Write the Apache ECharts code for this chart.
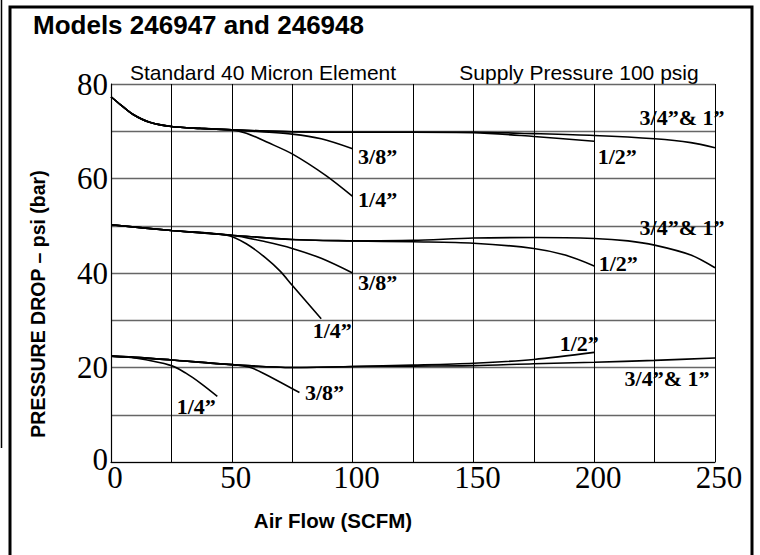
<!DOCTYPE html>
<html>
<head>
<meta charset="utf-8">
<script src="https://cdn.jsdelivr.net/npm/echarts@6/dist/echarts.min.js"></script>
<style>
html,body{margin:0;padding:0;background:#fff;}
#chart{width:760px;height:555px;}
</style>
</head>
<body>
<div id="chart"></div>
<script>
// ---- data (Air Flow SCFM, Pressure psi) ----
const xTickLabels = [0, 50, 100, 150, 200, 250];
const yTickLabels = [0, 20, 40, 60, 80];

// 80 psi inlet group
const top_34_1 = [[0,77.3],[4,75.6],[9,73.6],[16,71.9],[25,71.0],[37,70.6],[50,70.3],[75,69.9],[100,69.8],[125,69.8],[150,69.8],[175,69.5],[200,69.1],[225,68.4],[240,67.6],[250,66.5]];
const top_12   = [[0,77.3],[4,75.6],[9,73.6],[16,71.9],[25,71.0],[37,70.6],[50,70.3],[75,69.9],[100,69.8],[125,69.8],[150,69.7],[175,68.9],[200,67.9]];
const top_38   = [[0,77.3],[4,75.6],[9,73.6],[16,71.9],[25,71.0],[37,70.6],[50,70.3],[62,69.9],[75,69.4],[87,68.4],[100,66.3]];
const top_14   = [[0,77.3],[4,75.6],[9,73.6],[16,71.9],[25,71.0],[37,70.6],[50,70.3],[56,69.6],[65,67.6],[75,65.2],[89,60.6],[100,56.2]];

// 50 psi group
const mid_34_1 = [[0,50.2],[25,49.0],[50,48.0],[75,47.1],[100,46.8],[125,46.9],[150,47.4],[175,47.5],[200,47.3],[214,46.8],[225,45.9],[240,43.8],[250,41.1]];
const mid_12   = [[0,50.2],[25,49.0],[50,48.0],[75,47.1],[100,46.8],[125,46.6],[150,46.3],[175,45.2],[188,43.8],[200,41.5]];
const mid_38   = [[0,50.2],[25,49.0],[50,48.0],[64,46.6],[75,45.2],[87,43.1],[100,40.0]];
const mid_14   = [[0,50.2],[25,49.0],[48,48.0],[56,46.2],[64,43.2],[70,40.4],[75,37.4],[87,30.3]];

// 20 psi group
const low_34_1 = [[0,22.4],[12,22.1],[25,21.6],[50,20.6],[75,20.0],[100,20.2],[125,20.3],[150,20.4],[175,20.8],[200,21.1],[225,21.5],[250,22.0]];
const low_12   = [[0,22.4],[12,22.1],[25,21.6],[50,20.6],[75,20.0],[100,20.2],[125,20.5],[150,20.9],[175,21.7],[200,23.2]];
const low_38   = [[0,22.4],[12,22.1],[25,21.6],[50,20.6],[57,20.1],[63,18.8],[78,14.7]];
const low_14   = [[0,22.4],[10,22.0],[25,20.4],[31,18.8],[37,16.7],[44,13.9]];

const curveNames = ['3/4\u201D& 1\u201D', '1/2\u201D', '3/8\u201D', '1/4\u201D'];

// ---- layout / style ----
const curves = [
  {data: top_34_1, name: curveNames[0], off: [-33, -30]},
  {data: top_12,   name: curveNames[1], off: [23, 15]},
  {data: top_38,   name: curveNames[2], off: [25, 8]},
  {data: top_14,   name: curveNames[3], off: [25, 3]},
  {data: mid_34_1, name: curveNames[0], off: [-33, -40]},
  {data: mid_12,   name: curveNames[1], off: [24, -2]},
  {data: mid_38,   name: curveNames[2], off: [25, 9]},
  {data: mid_14,   name: curveNames[3], off: [11, 12]},
  {data: low_34_1, name: curveNames[0], off: [-48, 20]},
  {data: low_12,   name: curveNames[1], off: [-15, -9]},
  {data: low_38,   name: curveNames[2], off: [25, 0]},
  {data: low_14,   name: curveNames[3], off: [-21, 10]}
];

const serif = '"Liberation Serif", "Times New Roman", serif';
const sans = '"Liberation Sans", Arial, Helvetica, sans-serif';

const series = curves.map(c => ({
  type: 'line',
  name: c.name,
  data: c.data,
  smooth: 0.3,
  showSymbol: false,
  symbol: 'none',
  lineStyle: {color: '#000', width: 1.6},
  silent: true,
  animation: false,
  markPoint: {
    symbol: 'circle',
    symbolSize: 0,
    silent: true,
    animation: false,
    data: [{coord: c.data[c.data.length - 1]}],
    label: {
      show: true,
      position: 'inside',
      offset: c.off,
      formatter: c.name,
      color: '#000',
      fontFamily: serif,
      fontWeight: 'bold',
      fontSize: 22
    }
  }
}));

const chart = echarts.init(document.getElementById('chart'), null, {renderer: 'svg'});
chart.setOption({
  backgroundColor: '#fff',
  animation: false,
  grid: {left: 111, right: 45, top: 84, bottom: 93, containLabel: false},
  xAxis: {
    type: 'value', min: 0, max: 250, interval: 25,
    axisLine: {show: true, lineStyle: {color: '#000', width: 1.2}},
    axisTick: {show: false},
    axisLabel: {
      margin: 2,
      padding: [0, 0, 0, 8],
      color: '#000', fontFamily: serif, fontSize: 31, lineHeight: 26,
      formatter: v => xTickLabels.includes(v) ? String(v) : ''
    },
    splitLine: {show: true, lineStyle: {color: '#000', width: 1}}
  },
  yAxis: {
    type: 'value', min: 0, max: 80, interval: 10,
    axisLine: {show: true, lineStyle: {color: '#000', width: 1.2}},
    axisTick: {show: false},
    axisLabel: {
      margin: 3,
      color: '#000', fontFamily: serif, fontSize: 31, lineHeight: 24,
      formatter: v => yTickLabels.includes(v) ? (v === 0 ? '{z|0}' : String(v)) : '',
      rich: {z: {fontFamily: serif, fontSize: 31, lineHeight: 24, color: '#000', padding: [0, 0, 6, 0]}}
    },
    splitLine: {show: true, lineStyle: {color: '#666', width: 1.3}}
  },
  graphic: [
    {type: 'rect', shape: {x: 10, y: 7, width: 742, height: 560}, style: {fill: 'none', stroke: '#000', lineWidth: 3}, silent: true},
    {type: 'line', shape: {x1: 1.5, y1: 0, x2: 1.5, y2: 448}, style: {stroke: '#000', lineWidth: 1.5}, silent: true},
    {type: 'text', x: 33, y: 25, style: {text: 'Models 246947 and 246948', font: 'bold 26px ' + sans, fill: '#000', textAlign: 'left', textVerticalAlign: 'middle'}},
    {type: 'text', x: 263, y: 72, style: {text: 'Standard 40 Micron Element', font: '21px ' + sans, fill: '#000', textAlign: 'center', textVerticalAlign: 'middle'}},
    {type: 'text', x: 579, y: 72, style: {text: 'Supply Pressure 100 psig', font: '21px ' + sans, fill: '#000', textAlign: 'center', textVerticalAlign: 'middle'}},
    {type: 'text', x: 38, y: 304, rotation: Math.PI / 2, style: {text: 'PRESSURE DROP \u2013 psi (bar)', font: 'bold 19.5px ' + sans, fill: '#000', textAlign: 'center', textVerticalAlign: 'middle'}},
    {type: 'text', x: 333, y: 520, style: {text: 'Air Flow (SCFM)', font: 'bold 20.5px ' + sans, fill: '#000', textAlign: 'center', textVerticalAlign: 'middle'}}
  ],
  series: series
});
</script>
</body>
</html>
